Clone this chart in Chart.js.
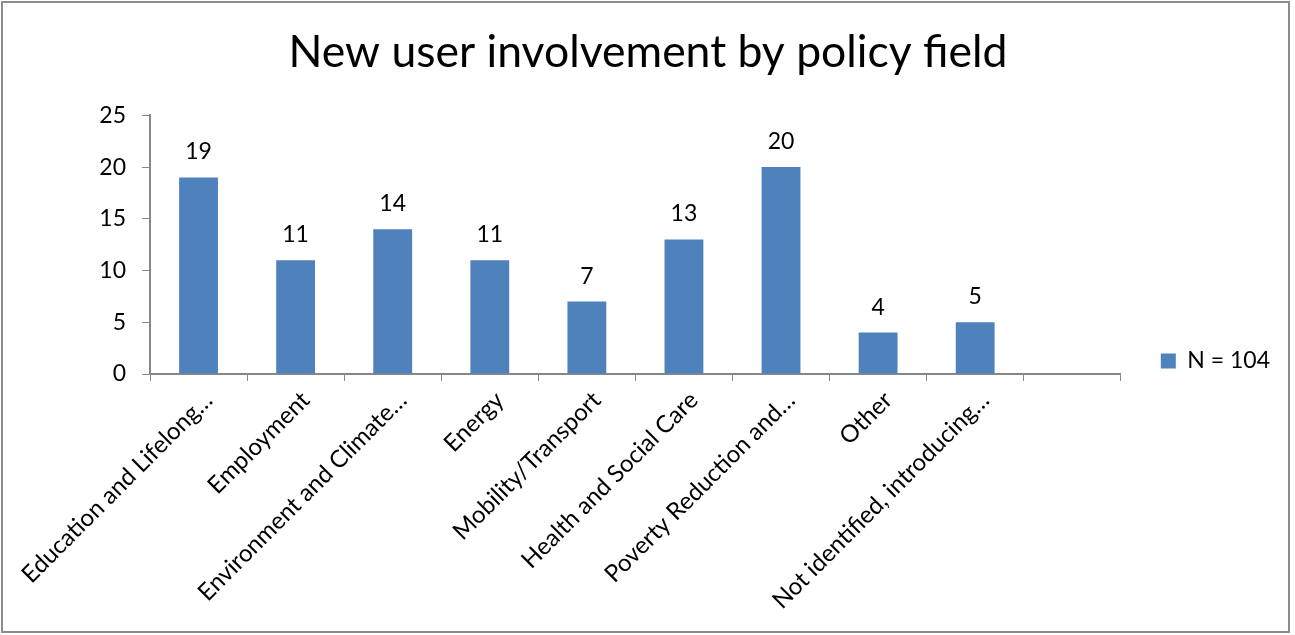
<!DOCTYPE html>
<html>
<head>
<meta charset="utf-8">
<title>New user involvement by policy field</title>
<script src="https://cdn.jsdelivr.net/npm/chart.js@4.4.0/dist/chart.umd.min.js"></script>
<style>
  html, body { margin: 0; padding: 0; background: #fff; }
  #wrap { width: 1295px; height: 635px; position: relative; }
</style>
</head>
<body>
<div id="wrap"><canvas id="policyChart" width="1295" height="635"></canvas></div>
<script>
// Policy fields (last slot is an empty category)
const fields = [
  'Education and Lifelong…',
  'Employment',
  'Environment and Climate…',
  'Energy',
  'Mobility/Transport',
  'Health and Social Care',
  'Poverty Reduction and…',
  'Other',
  'Not identified, introducing…',
  ''
];
const counts = [19, 11, 14, 11, 7, 13, 20, 4, 5, null];
const seriesName = 'N = 104';
const yTicks = [0, 5, 10, 15, 20, 25];

const FONT = 'Lato, "Open Sans", sans-serif';
const AXIS_GREY = '#878787';

// outer frame around the whole chart
const framePlugin = {
  id: 'frame',
  beforeDraw(chart) {
    const c = chart.ctx;
    c.save();
    c.fillStyle = '#fff';
    c.fillRect(0, 0, chart.width, chart.height);
    c.strokeStyle = '#8c8c8c';
    c.lineWidth = 2;
    c.strokeRect(2, 2, 1287, 630);
    c.restore();
  }
};

// value printed above each bar
const valueLabels = {
  id: 'valueLabels',
  afterDatasetsDraw(chart) {
    const c = chart.ctx;
    const meta = chart.getDatasetMeta(0);
    c.save();
    c.font = '23px ' + FONT;
    c.fillStyle = '#000';
    c.textAlign = 'center';
    c.textBaseline = 'bottom';
    meta.data.forEach((bar, i) => {
      const v = chart.data.datasets[0].data[i];
      if (v == null) return;
      c.fillText(String(v), bar.x, bar.y - 14);
    });
    c.restore();
  }
};

new Chart(document.getElementById('policyChart'), {
  type: 'bar',
  data: {
    labels: fields,
    datasets: [{
      label: seriesName,
      data: counts,
      backgroundColor: '#4F81BD',
      borderWidth: 0,
      categoryPercentage: 0.4,
      barPercentage: 1.0
    }]
  },
  options: {
    responsive: false,
    animation: false,
    layout: { padding: { left: 16, top: 8, right: 15, bottom: 5 } },
    plugins: {
      title: {
        display: true,
        text: 'New user involvement by policy field',
        color: '#000',
        font: { family: FONT, size: 44.5, weight: 'normal' },
        padding: { top: 18, bottom: 36 }
      },
      legend: {
        position: 'right',
        // blank legend title pushes the entry down towards the axis
        title: { display: true, text: ' ', font: { size: 20 }, padding: { top: 30, bottom: 30 } },
        labels: {
          color: '#000',
          font: { family: FONT, size: 23 },
          boxWidth: 15,
          boxHeight: 15,
          padding: 40
        }
      },
      tooltip: { enabled: false }
    },
    scales: {
      x: {
        grid: { display: true, drawOnChartArea: false, drawTicks: true, tickLength: 7, color: AXIS_GREY, offset: true },
        border: { display: true, color: AXIS_GREY, width: 2 },
        ticks: {
          color: '#000',
          font: { family: FONT, size: 24 },
          maxRotation: 45,
          minRotation: 45,
          autoSkip: false,
          padding: 5,
          labelOffset: 10
        },
        afterFit(scale) { scale.height = 256; }
      },
      y: {
        min: 0,
        max: 25,
        afterBuildTicks(scale) { scale.ticks = yTicks.map(v => ({ value: v })); },
        grid: { display: true, drawOnChartArea: false, drawTicks: true, tickLength: 8, color: AXIS_GREY },
        border: { display: true, color: AXIS_GREY, width: 2 },
        ticks: {
          color: '#000',
          font: { family: FONT, size: 23 },
          padding: 16
        },
        afterFit(scale) { scale.width = 134; }
      }
    }
  },
  plugins: [framePlugin, valueLabels]
});
</script>
</body>
</html>
